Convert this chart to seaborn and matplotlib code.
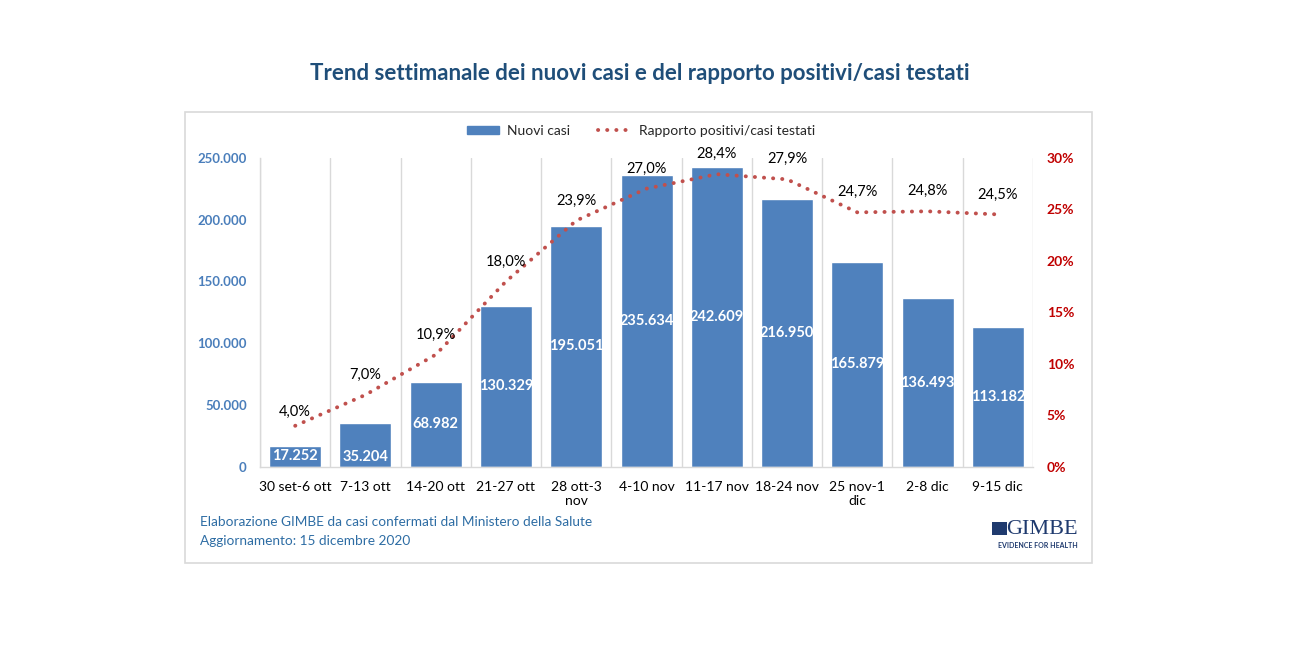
import numpy as np
import pandas as pd
import seaborn as sns
import matplotlib.pyplot as plt
from matplotlib.patches import Rectangle, Patch
from matplotlib.lines import Line2D
from matplotlib.ticker import FuncFormatter, FixedLocator

settimane = ["30 set-6 ott", "7-13 ott", "14-20 ott", "21-27 ott", "28 ott-3\nnov",
             "4-10 nov", "11-17 nov", "18-24 nov", "25 nov-1\ndic", "2-8 dic", "9-15 dic"]
nuovi_casi = [17252, 35204, 68982, 130329, 195051, 235634, 242609, 216950, 165879, 136493, 113182]
rapporto = [4.0, 7.0, 10.9, 18.0, 23.9, 27.0, 28.4, 27.9, 24.7, 24.8, 24.5]

blu = "#4f81bd"
rosso = "#c0504d"
grigio = "#d9d9d9"

sns.set_theme(style="white")
plt.rcParams['font.family'] = ['Lato', 'DejaVu Sans']

df = pd.DataFrame({"settimana": settimane, "casi": nuovi_casi, "rapporto": rapporto})
df["pos"] = np.arange(len(df))

fig = plt.figure(figsize=(12.99, 6.53), dpi=100)
fig.patch.set_facecolor("white")
ax = fig.add_axes([0.2002, 0.2848, 0.5950, 0.4737])

# outer frame of the chart
fig.patches.append(Rectangle((185 / 1299, 1 - 563 / 653), 907 / 1299, 451 / 653,
                             transform=fig.transFigure, fill=False, edgecolor=grigio, lw=1.2))

sns.barplot(data=df, x="settimana", y="casi", color=blu, width=0.74, saturation=1, ax=ax)
ax.set_xlim(-0.5, len(df) - 0.5)
ax.set_ylim(0, 250000)
ax.set_xlabel("")
ax.set_ylabel("")
ax.set_yticks(np.arange(0, 250001, 50000))
ax.yaxis.set_major_formatter(FuncFormatter(lambda v, p: f"{int(v):,}".replace(",", ".")))
for t in ax.get_yticklabels():
    t.set_color("#4a7ebb")
    t.set_fontweight("bold")
    t.set_fontsize(9.5)
ax.tick_params(axis="y", length=0, pad=9.5)
ax.tick_params(axis="x", length=0, pad=10, labelsize=10, labelcolor="black")

# category separators
ax.xaxis.set_minor_locator(FixedLocator(np.arange(-0.5, len(df), 1)))
ax.tick_params(axis="x", which="minor", length=5, color=grigio, width=1, direction="out")
ax.grid(axis="x", which="minor", color=grigio, lw=1)
ax.grid(axis="x", which="major", visible=False)
ax.grid(axis="y", visible=False)
for s in ["top", "right"]:
    ax.spines[s].set_visible(False)
for s in ["left", "bottom"]:
    ax.spines[s].set_color(grigio)
    ax.spines[s].set_linewidth(1)

# bar value labels
for i, v in enumerate(nuovi_casi):
    y = v / 2 if i != 1 else 8500
    ax.text(i, y, f"{v:,}".replace(",", "."), ha="center", va="center",
            color="white", fontweight="bold", fontsize=10.5)

ax2 = ax.twinx()
sns.lineplot(data=df, x="pos", y="rapporto", ax=ax2, color=rosso, lw=2.8,
             linestyle=(0, (0.05, 2.3)), dash_capstyle="round", legend=False)
ax2.set_ylim(0, 30)
ax2.set_xlim(-0.5, len(df) - 0.5)
ax2.set_ylabel("")
ax2.set_xlabel("")
ax2.set_yticks(np.arange(0, 31, 5))
ax2.yaxis.set_major_formatter(FuncFormatter(lambda v, p: f"{int(v)}%"))
for t in ax2.get_yticklabels():
    t.set_color("#c00000")
    t.set_fontweight("bold")
    t.set_fontsize(10)
ax2.tick_params(axis="y", length=0, pad=10)
for s in ax2.spines.values():
    s.set_visible(False)
ax2.grid(False)

for i, r in enumerate(rapporto):
    off = 14 if i == 0 else 20
    ax2.annotate(f"{r:.1f}%".replace(".", ","), (i, r), textcoords="offset pixels",
                 xytext=(0, off), ha="center", va="center", fontsize=10.5, color="black")

fig.text(0.4927, 1 - 73 / 653, "Trend settimanale dei nuovi casi e del rapporto positivi/casi testati",
         ha="center", va="center", fontsize=16, fontweight="bold", color="#1f4e79")

handles = [Patch(facecolor=blu, edgecolor=blu),
           Line2D([0], [0], color=rosso, lw=2.8, linestyle=(0, (0.05, 2.3)), dash_capstyle="round")]
fig.legend(handles, ["Nuovi casi", "Rapporto positivi/casi testati"], loc="center",
           bbox_to_anchor=(0.4935, 1 - 131 / 653), ncol=2, frameon=False, fontsize=10,
           handlelength=2.3, handleheight=0.55, columnspacing=2.0, handletextpad=0.6)

fig.text(200 / 1299, 1 - 522 / 653, "Elaborazione GIMBE da casi confermati dal Ministero della Salute",
         ha="left", va="center", fontsize=9.8, color="#2e6da4")
fig.text(200 / 1299, 1 - 541 / 653, "Aggiornamento: 15 dicembre 2020",
         ha="left", va="center", fontsize=9.8, color="#2e6da4")

fig.text(1078 / 1299, 1 - 529 / 653, "GIMBE", ha="right", va="center", fontsize=16,
         family=["Liberation Serif", "DejaVu Serif"], color="#1f3a6e")
fig.text(1078 / 1299, 1 - 546 / 653, "EVIDENCE FOR HEALTH", ha="right", va="center", fontsize=5,
         color="#1f3a6e", fontweight="bold")
fig.patches.append(Rectangle((992 / 1299, 1 - 535 / 653), 15 / 1299, 13 / 653,
                             transform=fig.transFigure, facecolor="#1f3a6e", edgecolor="none"))

fig.savefig("out.png", dpi=100)
